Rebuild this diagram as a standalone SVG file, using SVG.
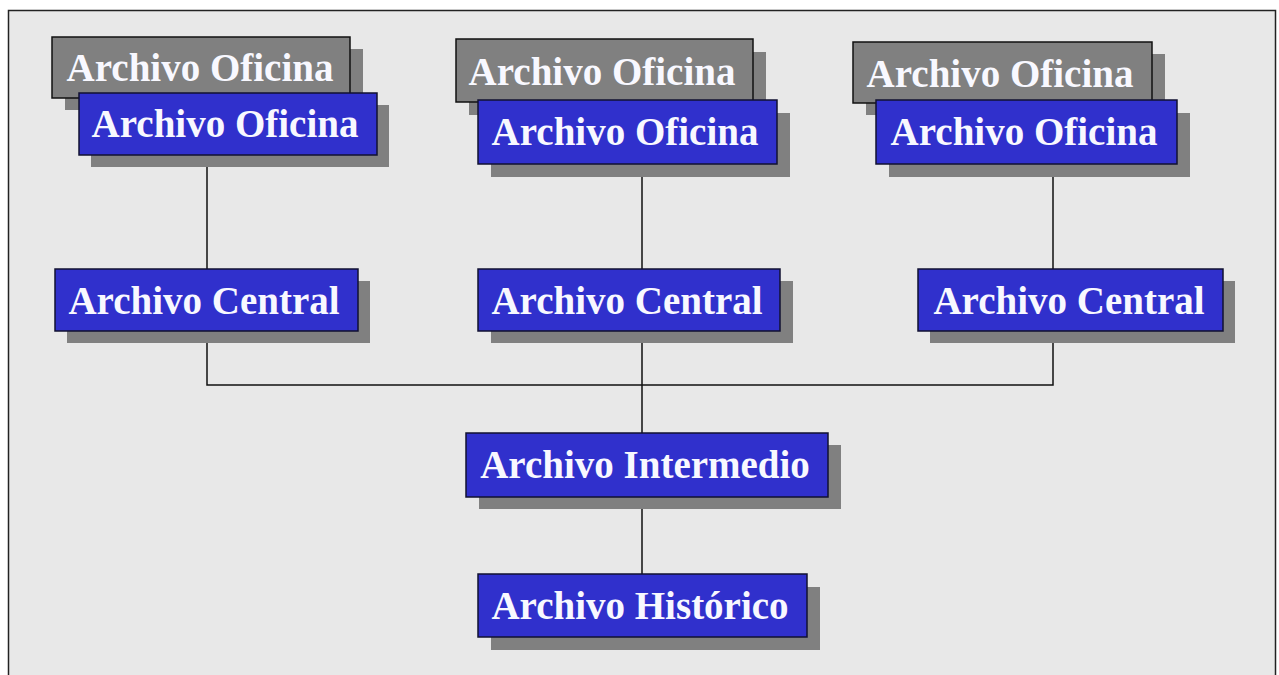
<svg xmlns="http://www.w3.org/2000/svg" width="1279" height="675" viewBox="0 0 1279 675">
<style>
.sh{fill:#808080}
.b{fill:#3030cc;stroke:#101030;stroke-width:1.5}
.g{fill:#808080;stroke:#101010;stroke-width:1.5}
.t{font-family:"Liberation Serif",serif;font-weight:bold;font-size:39px;fill:#f8f8ff;text-anchor:middle}
.c{stroke:#111;stroke-width:1.5;fill:none}
</style>
<rect x="0" y="0" width="1279" height="675" fill="#ffffff"/>
<rect x="8.5" y="10.5" width="1267" height="680" fill="#e8e8e8" stroke="#222" stroke-width="1.5"/>
<g id="connectors">
<path class="c" d="M207 167V269M642 176V269M1053 176V269"/>
<path class="c" d="M207 343V385H1053V343M642 343V433M642 509V574"/>
</g>
<g id="oficina1-back"><rect class="sh" x="65" y="49" width="298" height="61"/><rect class="g" x="52" y="37" width="298" height="61"/><text class="t" x="200" y="81">Archivo Oficina</text></g>
<g id="oficina1"><rect class="sh" x="91" y="105" width="298" height="62"/><rect class="b" x="79" y="93" width="298" height="62"/><text class="t" x="225" y="137">Archivo Oficina</text></g>
<g id="oficina2-back"><rect class="sh" x="469" y="52" width="297" height="63"/><rect class="g" x="456" y="39" width="297" height="63"/><text class="t" x="602" y="85">Archivo Oficina</text></g>
<g id="oficina2"><rect class="sh" x="491" y="113" width="299" height="64"/><rect class="b" x="478" y="100" width="299" height="64"/><text class="t" x="625" y="145">Archivo Oficina</text></g>
<g id="oficina3-back"><rect class="sh" x="866" y="54" width="299" height="61"/><rect class="g" x="853" y="42" width="299" height="61"/><text class="t" x="1000" y="87">Archivo Oficina</text></g>
<g id="oficina3"><rect class="sh" x="889" y="113" width="301" height="64"/><rect class="b" x="876" y="100" width="301" height="64"/><text class="t" x="1024" y="145">Archivo Oficina</text></g>
<g id="central1"><rect class="sh" x="67" y="281" width="303" height="62"/><rect class="b" x="55" y="269" width="303" height="62"/><text class="t" x="204" y="314">Archivo Central</text></g>
<g id="central2"><rect class="sh" x="491" y="281" width="302" height="62"/><rect class="b" x="478" y="269" width="302" height="62"/><text class="t" x="627" y="314">Archivo Central</text></g>
<g id="central3"><rect class="sh" x="930" y="281" width="305" height="62"/><rect class="b" x="918" y="269" width="305" height="62"/><text class="t" x="1069" y="314">Archivo Central</text></g>
<g id="intermedio"><rect class="sh" x="479" y="445" width="362" height="64"/><rect class="b" x="466" y="433" width="362" height="64"/><text class="t" x="645" y="478">Archivo Intermedio</text></g>
<g id="historico"><rect class="sh" x="491" y="587" width="329" height="63"/><rect class="b" x="478" y="574" width="329" height="63"/><text class="t" x="640" y="619">Archivo Histórico</text></g>
</svg>
